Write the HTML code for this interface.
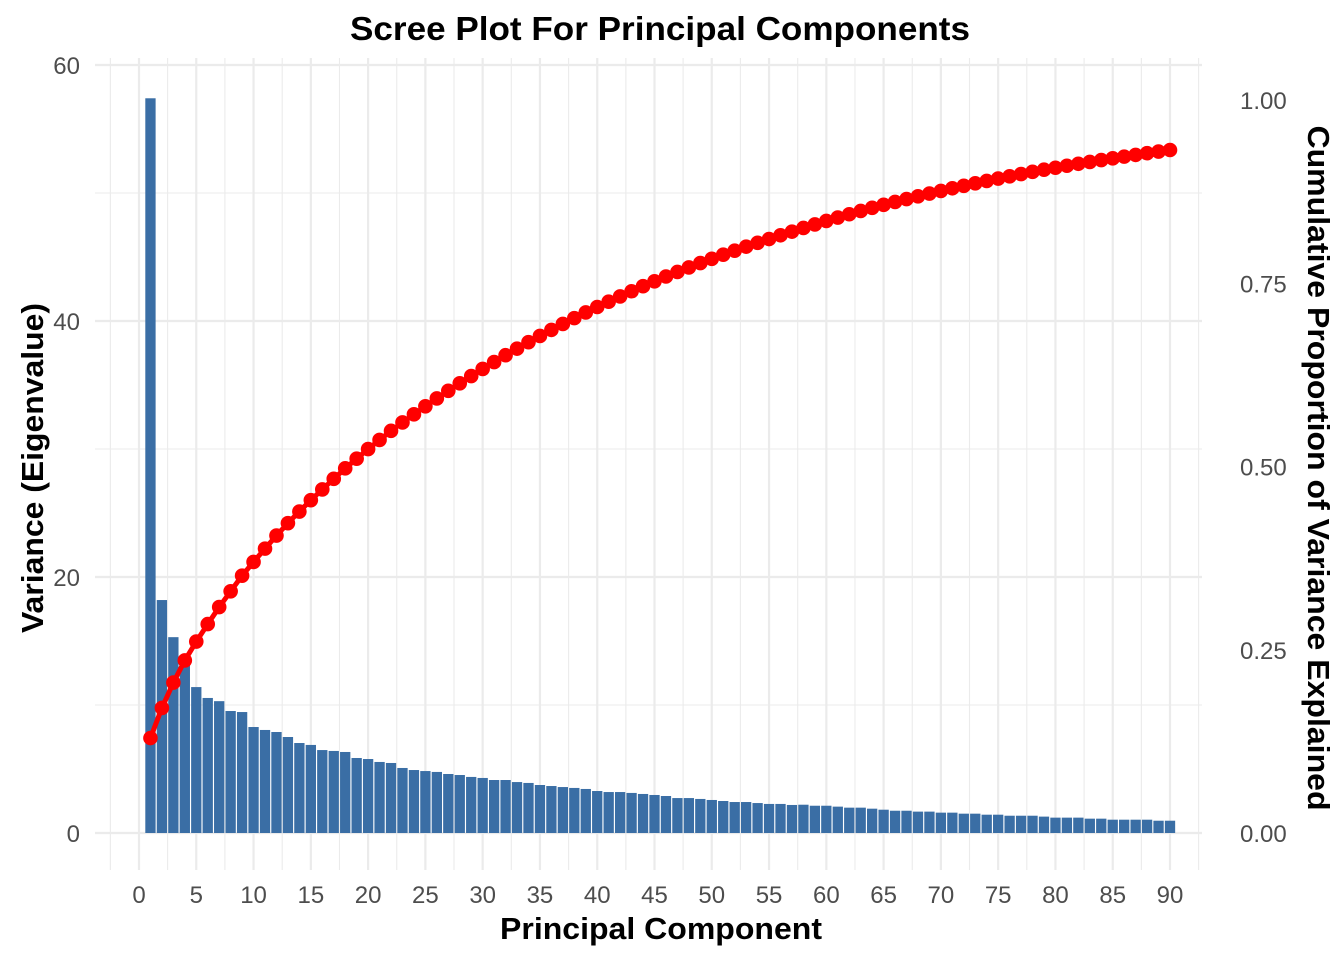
<!DOCTYPE html>
<html><head><meta charset="utf-8">
<style>
body{margin:0;background:#fff;}
svg text{font-family:"Liberation Sans",Arial,sans-serif;}
</style></head>
<body>
<svg id="chart" width="1344" height="960" viewBox="0 0 1344 960" xmlns="http://www.w3.org/2000/svg">
<rect width="1344" height="960" fill="#fff"/>
<g id="grid"></g>
<g id="bars"></g>
<g id="line"></g>
<g id="axes"></g>
<text x="660" y="40" text-anchor="middle" font-size="33" font-weight="bold" fill="#000" textLength="620" lengthAdjust="spacingAndGlyphs">Scree Plot For Principal Components</text>
<text x="661" y="939" text-anchor="middle" font-size="31" font-weight="bold" fill="#000" textLength="322" lengthAdjust="spacingAndGlyphs">Principal Component</text>
<text transform="translate(43,468) rotate(-90)" text-anchor="middle" font-size="31" font-weight="bold" fill="#000" textLength="330" lengthAdjust="spacingAndGlyphs">Variance (Eigenvalue)</text>
<text transform="translate(1308,468) rotate(90)" text-anchor="middle" font-size="31" font-weight="bold" fill="#000" textLength="685" lengthAdjust="spacingAndGlyphs">Cumulative Proportion of Variance Explained</text>
</svg>
<script>
const variances = [57.4,18.2,15.3,13.4,11.4,10.55,10.3,9.53,9.45,8.28,8.05,7.89,7.5,7.03,6.88,6.48,6.41,6.33,5.86,5.78,
5.55,5.47,5.08,4.92,4.84,4.77,4.61,4.53,4.38,4.30,4.14,4.14,3.98,3.91,3.75,3.67,3.59,3.52,3.44,3.28,
3.20,3.20,3.13,3.05,2.97,2.89,2.73,2.73,2.66,2.58,2.50,2.42,2.42,2.34,2.27,2.27,2.19,2.21,2.13,2.13,
2.06,1.98,1.98,1.90,1.82,1.74,1.74,1.67,1.67,1.59,1.59,1.51,1.51,1.43,1.43,1.35,1.35,1.35,1.28,1.20,
1.20,1.20,1.12,1.12,1.04,1.04,1.04,1.04,0.96,0.96];
const totalVariance = 443;
const leftTicks = [0,20,40,60];
const rightTicks = [0,0.25,0.5,0.75,1.0];
const rightTickLabels = ["0.00","0.25","0.50","0.75","1.00"];
const xTicks = [0,5,10,15,20,25,30,35,40,45,50,55,60,65,70,75,80,85,90];

const NS="http://www.w3.org/2000/svg";
const PL=95, PR=1202, PT=58, PB=870;
const xS = v => 139 + v*(1170-139)/90;
const yL = v => 833 - v*12.8;
const yR = v => 833 - v*733;
function mk(tag, attrs, parent){const e=document.createElementNS(NS,tag);for(const k in attrs)e.setAttribute(k,attrs[k]);parent.appendChild(e);return e;}
const grid=document.getElementById('grid'), bars=document.getElementById('bars'), line=document.getElementById('line'), axes=document.getElementById('axes');

for(let v=0; v<=60; v+=10){
  const l=mk('line',{x1:PL,x2:PR,y1:yL(v),y2:yL(v),stroke:'#ebebeb','stroke-width':v%20===0?2.2:1.1},grid);
  
  
}
for(let v=-2.5; v<=92.5; v+=2.5){
  const l=mk('line',{x1:xS(v),x2:xS(v),y1:PT,y2:PB,stroke:'#ebebeb','stroke-width':v%5===0?2.2:1.1},grid);
  
  
}
const bw = 11.456*0.9;
variances.forEach((v,i)=>{
  const b=mk('rect',{x:xS(i+1)-bw/2,y:yL(v),width:bw,height:yL(0)-yL(v),fill:'#3a6ea5'},bars);
  
  
});
let cum=0; const pts=[];
variances.forEach((v,i)=>{cum+=v; pts.push([xS(i+1), yR(cum/totalVariance)]);});
const pl=mk('polyline',{points:pts.map(p=>p.join(',')).join(' '),fill:'none',stroke:'#ff0000','stroke-width':5,'stroke-linejoin':'round'},line);


pts.forEach((p,i)=>{
  const c=mk('circle',{cx:p[0],cy:p[1],r:7.3,fill:'#ff0000'},line);
  
  
});
leftTicks.forEach(v=>{
  const t=mk('text',{x:80,y:yL(v)+9,'text-anchor':'end','font-size':24,fill:'#4d4d4d'},axes);
  t.textContent=v;
  
  
});
rightTicks.forEach((v,i)=>{
  const t=mk('text',{x:1240,y:yR(v)+9,'text-anchor':'start','font-size':24,fill:'#4d4d4d'},axes);
  t.textContent=rightTickLabels[i];
  
  
});
xTicks.forEach(v=>{
  const t=mk('text',{x:xS(v),y:903,'text-anchor':'middle','font-size':24,fill:'#4d4d4d'},axes);
  t.textContent=v;
  
  
});
</script>
</body></html>
